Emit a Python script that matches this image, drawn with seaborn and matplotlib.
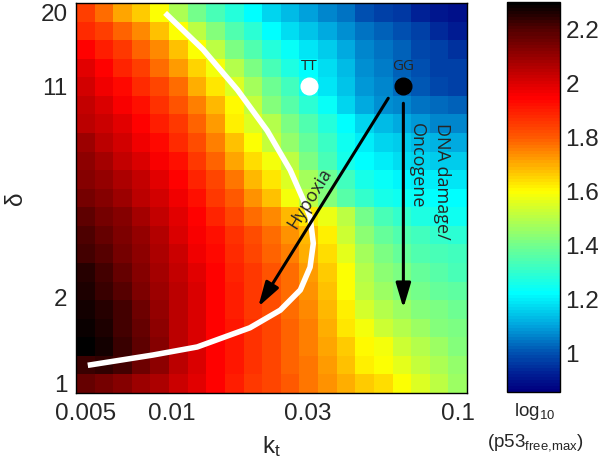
import numpy as np
import seaborn as sns
import matplotlib.pyplot as plt
from matplotlib.colors import LinearSegmentedColormap

# cell centres of the grid (log spaced)
kt_first, kt_last = 0.005, 0.1
delta_top, delta_bottom = 20.0, 1.0
n_cells = 21

# log10(p53 free,max); rows go from delta=20 (top) to delta=1 (bottom),
# columns from kt=0.005 (left) to kt=0.1 (right)
p53 = [
    [1.84, 1.77, 1.71, 1.66, 1.59, 1.48, 1.40, 1.34, 1.28, 1.22, 1.17, 1.13, 1.10, 1.07, 1.04, 1.00, 0.98, 0.96, 0.93, 0.91, 0.89],
    [1.88, 1.84, 1.79, 1.74, 1.67, 1.60, 1.51, 1.43, 1.35, 1.29, 1.22, 1.18, 1.14, 1.11, 1.08, 1.04, 1.02, 1.00, 0.97, 0.94, 0.92],
    [1.95, 1.90, 1.85, 1.79, 1.74, 1.67, 1.59, 1.51, 1.42, 1.35, 1.28, 1.23, 1.19, 1.15, 1.11, 1.07, 1.04, 1.02, 0.99, 0.97, 0.95],
    [1.99, 1.94, 1.89, 1.84, 1.78, 1.72, 1.65, 1.58, 1.49, 1.41, 1.34, 1.27, 1.22, 1.18, 1.13, 1.08, 1.05, 1.02, 1.00, 0.98, 0.97],
    [2.01, 1.97, 1.93, 1.88, 1.83, 1.78, 1.70, 1.63, 1.55, 1.47, 1.39, 1.32, 1.25, 1.19, 1.14, 1.09, 1.06, 1.03, 1.01, 0.99, 0.98],
    [2.03, 2.00, 1.96, 1.92, 1.87, 1.81, 1.75, 1.68, 1.61, 1.52, 1.43, 1.36, 1.29, 1.23, 1.17, 1.11, 1.08, 1.06, 1.04, 1.03, 1.02],
    [2.05, 2.02, 1.99, 1.95, 1.90, 1.85, 1.79, 1.72, 1.62, 1.55, 1.49, 1.42, 1.35, 1.28, 1.22, 1.17, 1.13, 1.11, 1.09, 1.07, 1.06],
    [2.09, 2.05, 2.01, 1.97, 1.93, 1.88, 1.82, 1.75, 1.67, 1.59, 1.52, 1.45, 1.38, 1.31, 1.25, 1.20, 1.17, 1.15, 1.13, 1.12, 1.11],
    [2.11, 2.08, 2.04, 2.00, 1.96, 1.92, 1.86, 1.79, 1.71, 1.64, 1.58, 1.50, 1.42, 1.33, 1.26, 1.22, 1.20, 1.18, 1.17, 1.16, 1.15],
    [2.13, 2.10, 2.07, 2.03, 1.99, 1.95, 1.89, 1.83, 1.76, 1.69, 1.63, 1.55, 1.47, 1.39, 1.32, 1.26, 1.23, 1.21, 1.20, 1.20, 1.19],
    [2.15, 2.12, 2.09, 2.05, 2.01, 1.97, 1.92, 1.86, 1.80, 1.73, 1.67, 1.58, 1.50, 1.43, 1.36, 1.30, 1.26, 1.24, 1.23, 1.22, 1.22],
    [2.18, 2.15, 2.12, 2.08, 2.04, 1.99, 1.94, 1.89, 1.83, 1.78, 1.74, 1.68, 1.63, 1.57, 1.50, 1.40, 1.34, 1.30, 1.27, 1.26, 1.25],
    [2.20, 2.17, 2.14, 2.10, 2.06, 2.00, 1.96, 1.92, 1.87, 1.82, 1.78, 1.73, 1.68, 1.62, 1.53, 1.44, 1.38, 1.35, 1.32, 1.30, 1.29],
    [2.22, 2.19, 2.15, 2.11, 2.07, 2.02, 1.97, 1.93, 1.88, 1.83, 1.79, 1.75, 1.70, 1.64, 1.56, 1.47, 1.41, 1.38, 1.35, 1.33, 1.32],
    [2.25, 2.21, 2.17, 2.12, 2.08, 2.04, 1.99, 1.94, 1.89, 1.85, 1.81, 1.77, 1.72, 1.66, 1.59, 1.49, 1.44, 1.41, 1.38, 1.36, 1.34],
    [2.26, 2.23, 2.19, 2.14, 2.09, 2.05, 2.00, 1.95, 1.90, 1.85, 1.81, 1.77, 1.73, 1.67, 1.60, 1.51, 1.46, 1.43, 1.40, 1.38, 1.37],
    [2.27, 2.25, 2.21, 2.16, 2.10, 2.05, 2.00, 1.95, 1.90, 1.86, 1.82, 1.78, 1.74, 1.68, 1.62, 1.54, 1.49, 1.46, 1.43, 1.41, 1.39],
    [2.28, 2.26, 2.22, 2.17, 2.11, 2.05, 2.00, 1.95, 1.91, 1.87, 1.83, 1.79, 1.75, 1.70, 1.63, 1.58, 1.53, 1.49, 1.46, 1.43, 1.41],
    [2.29, 2.27, 2.23, 2.18, 2.12, 2.05, 2.00, 1.95, 1.91, 1.87, 1.83, 1.79, 1.75, 1.71, 1.66, 1.61, 1.58, 1.53, 1.49, 1.46, 1.43],
    [2.23, 2.24, 2.21, 2.16, 2.11, 2.05, 2.00, 1.95, 1.91, 1.87, 1.83, 1.79, 1.76, 1.72, 1.67, 1.62, 1.60, 1.56, 1.52, 1.48, 1.45],
    [2.17, 2.15, 2.13, 2.09, 2.07, 2.02, 1.99, 1.94, 1.90, 1.86, 1.83, 1.80, 1.76, 1.73, 1.70, 1.66, 1.64, 1.60, 1.55, 1.50, 1.46],
]

kt_ticks = [0.005, 0.01, 0.03, 0.1]
kt_ticklabels = ['0.005', '0.01', '0.03', '0.1']
delta_ticks = [20, 11, 2, 1]
delta_ticklabels = ['20', '11', '2', '1']

# white boundary curve
curve_kt = [0.0095, 0.0129, 0.0170, 0.0216, 0.0260, 0.0289, 0.0305, 0.0313,
            0.0305, 0.0282, 0.0240, 0.0188, 0.0123, 0.0086, 0.0051]
curve_delta = [19.9, 14.8, 10.7, 7.7, 5.6, 4.4, 3.84, 3.1,
               2.56, 2.13, 1.81, 1.57, 1.345, 1.26, 1.16]

# genotypes
point_names = ['TT', 'GG']
point_kt = [0.0303, 0.0643]
point_delta = [11, 11]
point_colors = ['white', 'black']

# arrows (start, end)
hypoxia_kt = [0.0572, 0.0201]
hypoxia_delta = [10.0, 1.86]
dna_kt = [0.0646, 0.0646]
dna_delta = [9.6, 1.84]

# colour scale
vmin, vmax = 0.856, 2.30
cbar_ticks = [1, 1.2, 1.4, 1.6, 1.8, 2, 2.2]
cbar_ticklabels = ['1', '1.2', '1.4', '1.6', '1.8', '2', '2.2']
cmap_values = [0.856, 0.92, 1.0, 1.1, 1.22, 1.4, 1.6, 1.8, 1.95, 2.1, 2.2, 2.3]
cmap_colors = [(0, 0, 0.5), (0, 0.12, 0.58), (0, 0.33, 0.7), (0, 0.65, 0.87),
               (0, 1, 1), (0.45, 1, 0.55), (1, 1, 0), (1, 0.35, 0),
               (1, 0, 0), (0.6, 0, 0), (0.33, 0, 0), (0, 0, 0)]


kt_step = (np.log10(kt_last) - np.log10(kt_first)) / (n_cells - 1)
delta_step = (np.log10(delta_top) - np.log10(delta_bottom)) / (n_cells - 1)


def kt_to_col(kt):
    return (np.log10(kt) - np.log10(kt_first)) / kt_step + 0.5


def delta_to_row(d):
    return (np.log10(delta_top) - np.log10(d)) / delta_step + 0.5


sns.set_style('white')
plt.rcParams['font.family'] = ['Liberation Sans', 'DejaVu Sans']
plt.rcParams['mathtext.default'] = 'regular'

cmap = LinearSegmentedColormap.from_list(
    'p53', [((v - vmin) / (vmax - vmin), c) for v, c in zip(cmap_values, cmap_colors)], N=128)

fig = plt.figure(figsize=(6, 4.66), dpi=100)
ax = fig.add_axes([76 / 600, 1 - 393 / 466, 391 / 600, 390 / 466])
cax = fig.add_axes([507 / 600, 1 - 392 / 466, 53 / 600, 390 / 466])

sns.heatmap(np.array(p53), ax=ax, cmap=cmap, vmin=vmin, vmax=vmax, cbar_ax=cax,
            xticklabels=False, yticklabels=False)

ax.set_xticks(kt_to_col(np.array(kt_ticks)), kt_ticklabels)
ax.set_yticks(delta_to_row(np.array(delta_ticks)), delta_ticklabels, rotation=0)
ax.tick_params(direction='in', length=5, width=1, top=True, right=True,
               labelsize=17.5, color='k')
ax.tick_params(axis='x', pad=7)
ax.tick_params(axis='y', pad=6)
for s in ax.spines.values():
    s.set_visible(True)
    s.set_color('k')
    s.set_linewidth(1)

ax.set_xlabel('k$_t$', fontsize=17.5)
ax.xaxis.set_label_coords(0.5, -0.105)
ax.set_ylabel('δ', fontsize=17.5)
ax.yaxis.set_label_coords(-0.125, 0.5)

# boundary curve
ax.plot(kt_to_col(np.array(curve_kt)), delta_to_row(np.array(curve_delta)),
        color='white', lw=4, solid_capstyle='butt')

# arrows
arrow_style = dict(arrowstyle='-|>,head_length=1.5,head_width=0.45', color='k',
                   lw=2.2, mutation_scale=10, shrinkA=0, shrinkB=0)
ax.annotate('', xy=(kt_to_col(hypoxia_kt[1]), delta_to_row(hypoxia_delta[1])),
            xytext=(kt_to_col(hypoxia_kt[0]), delta_to_row(hypoxia_delta[0])),
            arrowprops=arrow_style)
ax.annotate('', xy=(kt_to_col(dna_kt[1]), delta_to_row(dna_delta[1])),
            xytext=(kt_to_col(dna_kt[0]), delta_to_row(dna_delta[0])),
            arrowprops=arrow_style)

# genotype points
for name, k, d, c in zip(point_names, point_kt, point_delta, point_colors):
    ax.plot(kt_to_col(k), delta_to_row(d), 'o', color=c, mec=c, ms=12)
    ax.annotate(name, (kt_to_col(k), delta_to_row(d)), xytext=(0, 14),
                textcoords='offset points', ha='center', va='center',
                fontsize=11, family='Open Sans')

ax.text(kt_to_col(0.0305), delta_to_row(4.47), 'Hypoxia', rotation=58,
        rotation_mode='anchor', ha='center', va='center', fontsize=13,
        family='Open Sans')
ax.text(kt_to_col(0.0849), delta_to_row(8.19), 'DNA damage/', rotation=-90,
        rotation_mode='anchor', ha='left', va='baseline', fontsize=13,
        family='Open Sans')
ax.text(kt_to_col(0.0694), delta_to_row(8.19), 'Oncogene', rotation=-90,
        rotation_mode='anchor', ha='left', va='baseline', fontsize=13,
        family='Open Sans')

# colour bar
cb = ax.collections[0].colorbar
cb.set_ticks(cbar_ticks, labels=cbar_ticklabels)
cb.outline.set_linewidth(1)
cb.outline.set_edgecolor('k')
cax.tick_params(direction='in', left=True, right=True, labelleft=False,
                labelright=True, length=4, width=1, labelsize=17.5, pad=4, color='k')
cax.minorticks_off()

fig.text(535 / 600, 1 - 412 / 466, 'log$_{10}$', ha='center', va='center', fontsize=13.5)
fig.text(535 / 600, 1 - 443 / 466, r'(p53$_{free,\!max}$)', ha='center', va='center', fontsize=13.5)

fig.savefig('out.png', dpi=100)
